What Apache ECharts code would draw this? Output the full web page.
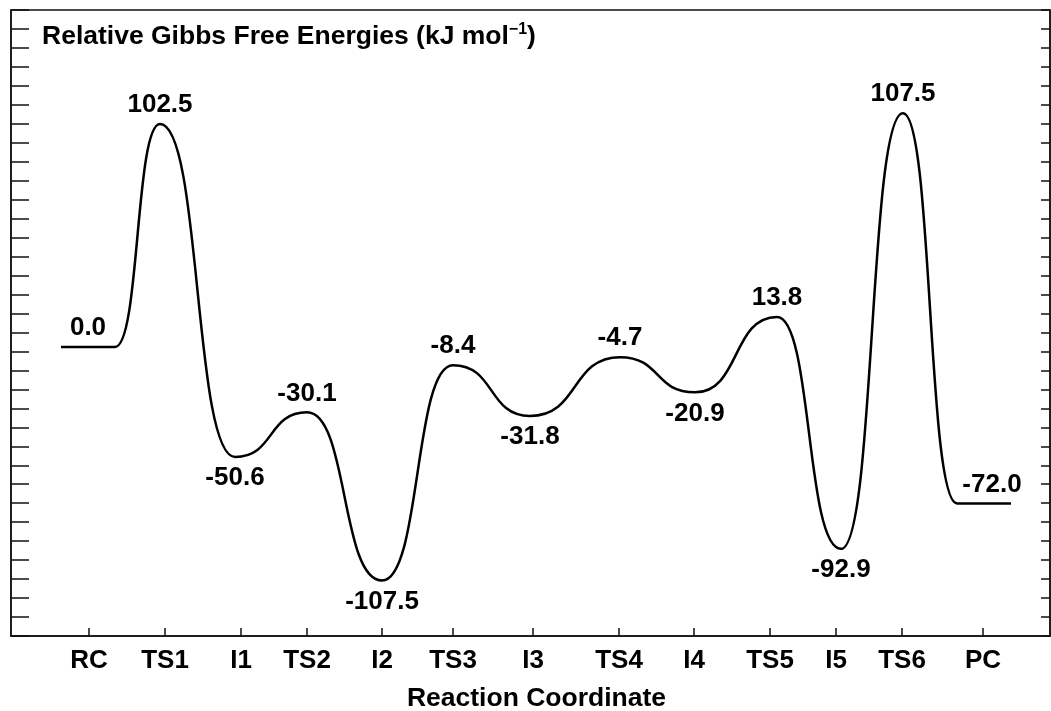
<!DOCTYPE html>
<html>
<head>
<meta charset="utf-8">
<script src="https://cdn.jsdelivr.net/npm/echarts@6/dist/echarts.min.js"></script>
<style>
  html, body { margin: 0; padding: 0; background: #fff; }
  #chart { width: 1051px; height: 711px; }
</style>
</head>
<body>
<div id="chart"></div>
<script>
// states along the reaction path
const states = ['RC', 'TS1', 'I1', 'TS2', 'I2', 'TS3', 'I3', 'TS4', 'I4', 'TS5', 'I5', 'TS6', 'PC']
// relative Gibbs free energies, kJ/mol
const energies = [0.0, 102.5, -50.6, -30.1, -107.5, -8.4, -31.8, -4.7, -20.9, 13.8, -92.9, 107.5, -72.0]
// reaction coordinate of each stationary point on the curve
const pointCoord = [7.7, 14.9, 22.4, 29.6, 37.1, 44.2, 51.9, 60.9, 68.4, 76.6, 83.0, 89.2, 97.3]
// reaction coordinate of the category ticks
const tickCoord = [7.8, 15.4, 23.0, 29.6, 37.1, 44.2, 52.2, 60.8, 68.3, 75.9, 82.5, 89.1, 97.2]

const FONT = "'Liberation Sans', Arial, Helvetica, sans-serif"
const INK = '#111'
const plateau = 2.7   // half length of the flat RC / PC segments
const last = states.length - 1

function ends(j) {
  const h = (j === 0 || j === last) ? plateau : 0
  return [pointCoord[j] - h, pointCoord[j] + h]
}

function renderItem(params, api) {
  const i = params.dataIndex
  const e = api.value(1)
  const [l, r] = ends(i)
  const pl = api.coord([l, e])
  const pr = api.coord([r, e])
  const children = []
  const lineStyle = { stroke: '#000', lineWidth: 2.5, fill: 'none' }
  if (i > 0) {
    const p0 = api.coord([ends(i - 1)[1], energies[i - 1]])
    const dx = (pl[0] - p0[0]) * 0.55
    children.push({
      type: 'bezierCurve',
      shape: {
        x1: p0[0], y1: p0[1],
        cpx1: p0[0] + dx, cpy1: p0[1],
        cpx2: pl[0] - dx, cpy2: pl[1],
        x2: pl[0], y2: pl[1]
      },
      style: lineStyle
    })
  }
  if (r > l) {
    children.push({
      type: 'line',
      shape: { x1: pl[0], y1: pl[1], x2: pr[0], y2: pr[1] },
      style: lineStyle
    })
  }
  const c = api.coord([api.value(0), e])
  const below = states[i][0] === 'I'
  children.push({
    type: 'text',
    x: c[0] + (i === last ? 8 : 0),
    y: c[1] + (below ? 21 : -19),
    style: {
      text: e.toFixed(1),
      fill: '#000',
      fontFamily: FONT,
      fontWeight: 'bold',
      fontSize: 26,
      align: 'center',
      verticalAlign: 'middle'
    }
  })
  return { type: 'group', children: children }
}

const chart = echarts.init(document.getElementById('chart'), null, { renderer: 'canvas' })

const tickAxis = (position, len) => ({
  type: 'value',
  position: position,
  min: 0,
  max: 33,
  interval: 1,
  axisLine: { show: true, onZero: false, lineStyle: { color: INK, width: 1.5 } },
  axisTick: { show: true, inside: true, length: len, lineStyle: { color: INK, width: 1.5 } },
  axisLabel: { show: false },
  splitLine: { show: false }
})

const option = {
  animation: false,
  backgroundColor: '#fff',
  title: {
    left: 42,
    top: 22,
    padding: 0,
    text: '{a|Relative Gibbs Free Energies (kJ mol}{s|−1}{a|)}',
    textStyle: {
      rich: {
        a: { fontFamily: FONT, fontWeight: 'bold', fontSize: 26.5, color: '#000', lineHeight: 29 },
        s: { fontFamily: FONT, fontWeight: 'bold', fontSize: 16, color: '#000', verticalAlign: 'top', lineHeight: 29 }
      }
    }
  },
  grid: {
    left: 11,
    right: 1,
    top: 10,
    bottom: 75,
    outerBoundsMode: 'none',
    containLabel: false,
    show: true,
    borderColor: INK,
    borderWidth: 1.5
  },
  xAxis: {
    type: 'value',
    min: 0,
    max: 103.9,
    name: 'Reaction Coordinate',
    nameLocation: 'middle',
    nameGap: 49,
    nameTextStyle: { fontFamily: FONT, fontWeight: 'bold', fontSize: 26.5, color: '#000', padding: [0, 0, 0, 12] },
    axisLine: { show: true, onZero: false, lineStyle: { color: INK, width: 1.5 } },
    axisTick: { show: true, inside: true, length: 8, customValues: tickCoord, lineStyle: { color: INK, width: 1.5 } },
    axisLabel: {
      show: true,
      customValues: tickCoord,
      margin: 12,
      fontFamily: FONT,
      fontWeight: 'bold',
      fontSize: 26,
      color: '#000',
      formatter: v => states[tickCoord.indexOf(v)] || ''
    },
    splitLine: { show: false }
  },
  yAxis: [
    {
      type: 'value',
      min: -133,
      max: 155,
      show: false,
      splitLine: { show: false }
    },
    tickAxis('left', 18),
    tickAxis('right', 9)
  ],
  series: [{
    type: 'custom',
    renderItem: renderItem,
    clip: false,
    yAxisIndex: 0,
    encode: { x: 0, y: 1 },
    data: pointCoord.map((x, i) => [x, energies[i]])
  }]
}

chart.setOption(option)
</script>
</body>
</html>
